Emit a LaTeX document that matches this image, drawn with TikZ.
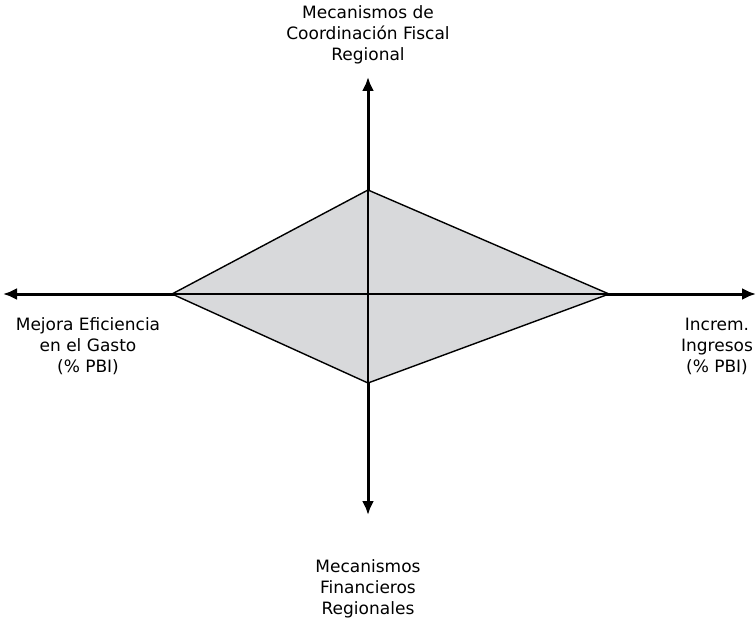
\documentclass[tikz,border=0pt]{standalone}
\usepackage{fontspec}
\setmainfont{DejaVu Sans}
\usetikzlibrary{arrows.meta}
\begin{document}
\begin{tikzpicture}[x=1pt,y=-1pt,
  axis/.style={line width=3pt,-{Latex[length=14pt,width=12pt]}},
  lab/.style={align=center,font=\fontsize{17}{21}\selectfont,inner sep=0pt},
  thin/.style={line width=1.4pt}]
\useasboundingbox (0,0) rectangle (756,623);
\coordinate (O) at (368,294);
\coordinate (T) at (368,190);
\coordinate (B) at (368,383);
\coordinate (L) at (172,294);
\coordinate (R) at (609,294);
\coordinate (TE) at (368,77);
\coordinate (BE) at (368,515);
\coordinate (LE) at (3,294);
\coordinate (RE) at (756,294);
\draw[axis] (O) -- (TE);
\draw[axis] (O) -- (BE);
\draw[axis] (O) -- (LE);
\draw[axis] (O) -- (RE);
\fill[fill={rgb,255:red,216;green,217;blue,219}] (T) -- (R) -- (B) -- (L) -- cycle;
\draw[thin] (T) -- (B);
\draw[thin] (L) -- (R);
\draw[thin,line join=miter] (T) -- (R) -- (B) -- (L) -- cycle;
\node[lab] (top) at (368,35) {Mecanismos de\\Coordinación Fiscal\\Regional};
\node[lab] (bot) at (368,589) {Mecanismos\\Financieros\\Regionales};
\node[lab] (left) at (88,346) {Mejora Eficiencia\\en el Gasto\\(\% PBI)};
\node[lab] (right) at (717,346) {Increm.\\Ingresos\\(\% PBI)};
\end{tikzpicture}
\end{document}
